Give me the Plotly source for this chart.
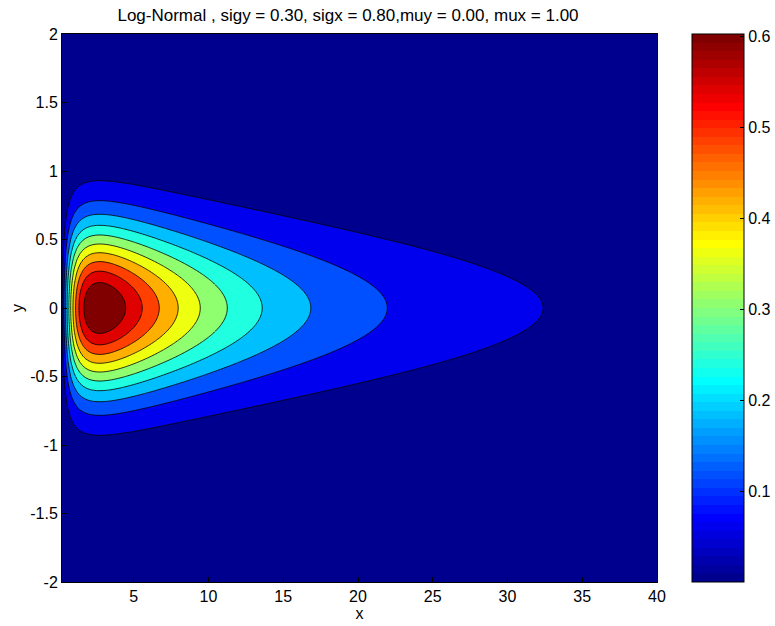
import numpy as np
import plotly.graph_objects as go

# Parameters of the surface (as given in the title)
SIG_Y = 0.30
SIG_X = 0.80
MU_Y = 0.00
MU_X = 1.00

# Sampling grid
X_VALUES = np.arange(0.2, 40.0001, 0.2)
Y_VALUES = np.linspace(-2.0, 2.0, 201)

# Number of contour levels
N_LEVELS = 10

# Tick labels
X_TICKS = [5, 10, 15, 20, 25, 30, 35, 40]
Y_TICKS = [2, 1.5, 1, 0.5, 0, -0.5, -1, -1.5, -2]
Y_TICK_TEXT = ["2", "1.5", "1", "0.5", "0", "-0.5", "-1", "-1.5", "-2"]
CB_TICKS = [0.1, 0.2, 0.3, 0.4, 0.5, 0.6]
CB_TICK_TEXT = ["0.1", "0.2", "0.3", "0.4", "0.5", "0.6"]

TITLE = "Log-Normal , sigy = 0.30, sigx = 0.80,muy = 0.00, mux = 1.00"

FONT = "Liberation Sans, Arial, sans-serif"

# Plot area in pixels
PLOT_L, PLOT_R, PLOT_T, PLOT_B = 62, 657, 34, 582
FIG_W, FIG_H = 775, 626


def jet(m=64):
    """MATLAB-style jet colormap with m entries (rows of r, g, b in 0..1)."""
    n = int(np.ceil(m / 4))
    u = np.concatenate([np.arange(1, n + 1) / n, np.ones(n - 1), np.arange(n, 0, -1) / n])
    g = int(np.ceil(n / 2)) - (1 if m % 4 == 1 else 0) + np.arange(1, len(u) + 1)
    r = g + n
    b = g - n
    cmap = np.zeros((m, 3))
    k = r <= m
    cmap[r[k] - 1, 0] = u[k]
    k = g <= m
    cmap[g[k] - 1, 1] = u[k]
    k = b >= 1
    cmap[b[k] - 1, 2] = u[k]
    return cmap


def rgb(c):
    return "rgb(%d,%d,%d)" % tuple(int(round(v * 255)) for v in c)


JET = jet(64)

# Joint surface over (x, y): normal in log(x) and in y
X, Y = np.meshgrid(X_VALUES, Y_VALUES)
u = (np.log(X) - MU_X) / SIG_X
v = (Y - MU_Y) / SIG_Y
Z = np.exp(-0.25 * (u ** 2 + v ** 2)) / (2 * np.pi * SIG_X * SIG_Y)

zmin, zmax = float(Z.min()), float(Z.max())
step = (zmax - zmin) / (N_LEVELS + 1)
levels = zmin + step * np.arange(1, N_LEVELS + 1)
top = levels[-1]


def band_color(val):
    idx = int(np.floor((val - zmin) / (top - zmin) * 64))
    return rgb(JET[min(max(idx, 0), 63)])


# Stepped colorscale: each filled band takes the colour of its lower level
band_scale = []
for i in range(N_LEVELS):
    lo_val = zmin if i == 0 else levels[i - 1]
    col = band_color(lo_val)
    end_pos = (i + 1) / N_LEVELS - 0.002 if i < N_LEVELS - 1 else 0.97
    band_scale.append([i / N_LEVELS, col])
    band_scale.append([end_pos, col])
band_scale.append([0.98, band_color(top)])
band_scale.append([1.0, band_color(top)])

# 64-step colorscale for the colour bar
bar_scale = []
for k in range(64):
    bar_scale.append([k / 64, rgb(JET[k])])
    bar_scale.append([(k + 1) / 64, rgb(JET[k])])

plot_w = PLOT_R - PLOT_L

fig = go.Figure()
fig.add_trace(go.Contour(
    x=X_VALUES, y=Y_VALUES, z=Z,
    autocontour=False,
    contours=dict(start=float(levels[0]), end=float(levels[-1]),
                  size=float(step), coloring="fill"),
    colorscale=band_scale,
    line=dict(color="black", width=0.8),
    showscale=False,
    hoverinfo="skip",
))

# Colour bar carrier
fig.add_trace(go.Scatter(
    x=[20], y=[0], mode="markers",
    marker=dict(size=1, opacity=0, color=[zmin], cmin=zmin, cmax=float(top),
                colorscale=bar_scale, showscale=True,
                colorbar=dict(
                    x=(692 - PLOT_L) / plot_w, xanchor="left",
                    y=0.5, yanchor="middle", len=1, lenmode="fraction",
                    thickness=52, thicknessmode="pixels",
                    xpad=0, ypad=0,
                    outlinewidth=1, outlinecolor="black",
                    tickvals=CB_TICKS, ticktext=CB_TICK_TEXT,
                    ticks="inside", ticklen=4, tickcolor="black",
                    tickfont=dict(family=FONT, size=16, color="black"),
                )),
    hoverinfo="skip", showlegend=False,
))

axis_font = dict(family=FONT, size=16, color="black")

fig.update_layout(
    width=FIG_W, height=FIG_H, autosize=False,
    margin=dict(l=PLOT_L, r=FIG_W - PLOT_R, t=PLOT_T, b=FIG_H - PLOT_B, autoexpand=False),
    paper_bgcolor="white", plot_bgcolor="white",
    title=dict(text=TITLE, x=348 / FIG_W, xref="container", xanchor="center",
               y=1 - 15 / FIG_H, yref="container", yanchor="middle",
               font=dict(family=FONT, size=17, color="black")),
    xaxis=dict(range=[X_VALUES[0], 40], tickvals=X_TICKS,
               ticktext=[str(t) for t in X_TICKS],
               ticks="inside", ticklen=5, tickcolor="black",
               showline=True, linecolor="black", linewidth=1, mirror=True,
               showgrid=False, zeroline=False, tickfont=axis_font,
               title=dict(text="x", font=axis_font, standoff=3)),
    yaxis=dict(range=[-2, 2], tickvals=Y_TICKS, ticktext=Y_TICK_TEXT,
               ticks="inside", ticklen=5, tickcolor="black",
               showline=True, linecolor="black", linewidth=1, mirror=True,
               showgrid=False, zeroline=False, tickfont=axis_font,
               title=dict(text="y", font=axis_font, standoff=2)),
    showlegend=False,
)

fig.write_html("out.html")
